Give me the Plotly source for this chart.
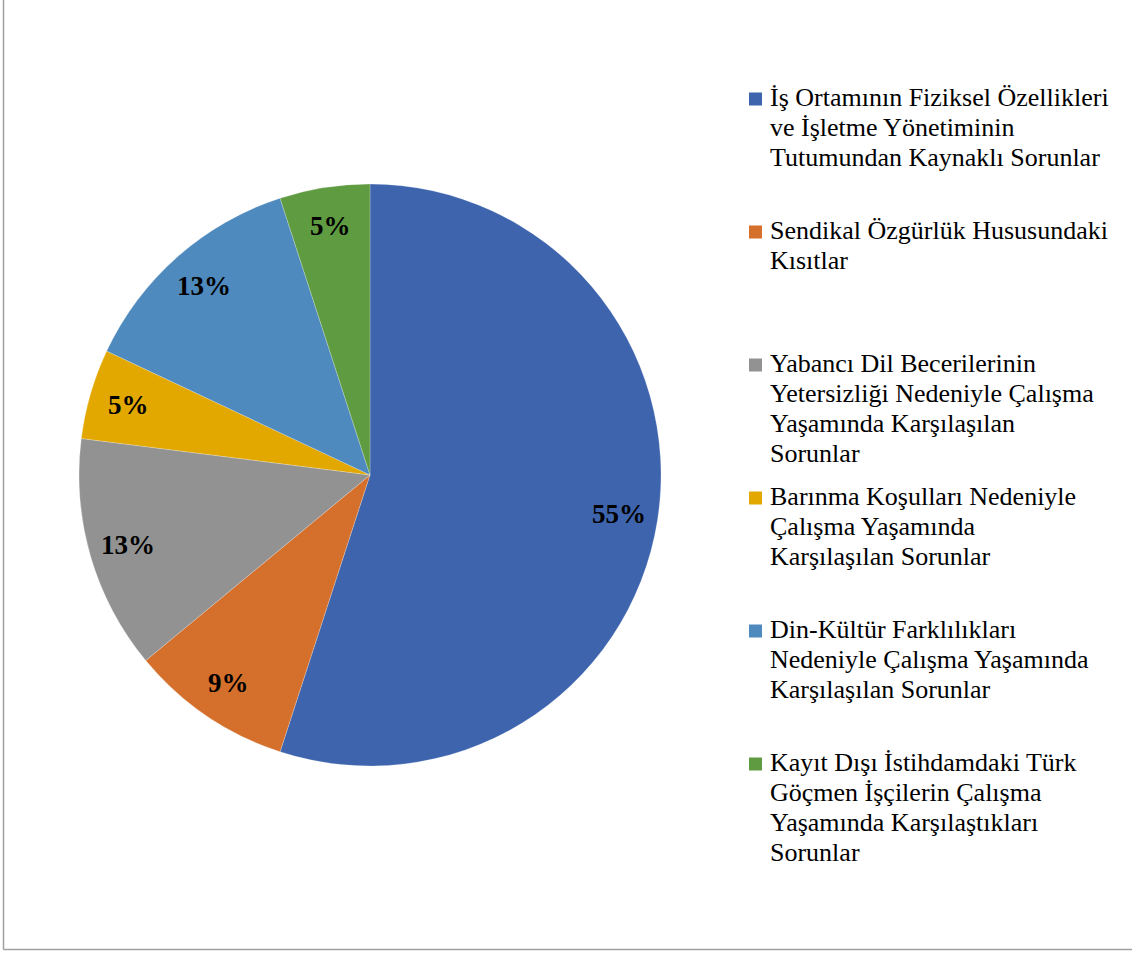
import math
import plotly.graph_objects as go

# Survey categories (full names) and their shares in percent
categories = [
    "İş Ortamının Fiziksel Özellikleri ve İşletme Yönetiminin Tutumundan Kaynaklı Sorunlar",
    "Sendikal Özgürlük Hususundaki Kısıtlar",
    "Yabancı Dil Becerilerinin Yetersizliği Nedeniyle Çalışma Yaşamında Karşılaşılan Sorunlar",
    "Barınma Koşulları Nedeniyle Çalışma Yaşamında Karşılaşılan Sorunlar",
    "Din-Kültür Farklılıkları Nedeniyle Çalışma Yaşamında Karşılaşılan Sorunlar",
    "Kayıt Dışı İstihdamdaki Türk Göçmen İşçilerin Çalışma Yaşamında Karşılaştıkları Sorunlar",
]
shares = [55, 9, 13, 5, 13, 5]

# Legend text, wrapped line by line
legend_lines = [
    ["İş Ortamının Fiziksel Özellikleri", "ve İşletme Yönetiminin", "Tutumundan Kaynaklı Sorunlar"],
    ["Sendikal Özgürlük Hususundaki", "Kısıtlar"],
    ["Yabancı Dil Becerilerinin", "Yetersizliği Nedeniyle Çalışma", "Yaşamında Karşılaşılan", "Sorunlar"],
    ["Barınma Koşulları Nedeniyle", "Çalışma Yaşamında", "Karşılaşılan Sorunlar"],
    ["Din-Kültür Farklılıkları", "Nedeniyle Çalışma Yaşamında", "Karşılaşılan Sorunlar"],
    ["Kayıt Dışı İstihdamdaki Türk", "Göçmen İşçilerin Çalışma", "Yaşamında Karşılaştıkları", "Sorunlar"],
]

colors = ["#3D64AD", "#D4702C", "#929292", "#E2A800", "#4E8ABE", "#5F9B40"]

W, H = 1132, 954
FONT = "Liberation Serif, Times New Roman, serif"

# Pie geometry in pixels
cx, cy, R = 370, 475, 291


def px(x):
    return x / W


def py(y):
    return 1 - y / H


fig = go.Figure()
fig.add_trace(go.Pie(
    labels=categories,
    values=shares,
    marker=dict(colors=colors, line=dict(color="rgba(255,255,255,0.45)", width=0.5)),
    sort=False,
    direction="clockwise",
    rotation=0,
    textinfo="none",
    hoverinfo="label+value",
    showlegend=False,
    domain=dict(x=[px(cx - R), px(cx + R)], y=[py(cy + R), py(cy - R)]),
))

annotations = []
shapes = []

# Percentage labels placed along each slice's mid-angle
total = sum(shares)
start = 0.0
for v in shares:
    mid = (start + v / 2) / total * 2 * math.pi
    start += v
    r = 0.865 * R
    lx = cx + r * math.sin(mid)
    ly = cy - r * math.cos(mid)
    annotations.append(dict(
        x=px(lx), y=py(ly), xref="paper", yref="paper",
        text=f"<b>{v}%</b>", showarrow=False,
        xanchor="center", yanchor="middle",
        font=dict(family=FONT, size=27, color="#000000"),
    ))

# Legend: coloured squares with wrapped text
item_step = 133
line_step = 30
first_baseline = 106
text_x = 768
for i, (lines, col) in enumerate(zip(legend_lines, colors)):
    base = first_baseline + i * item_step
    sq_c = base - 7
    shapes.append(dict(
        type="rect", xref="paper", yref="paper",
        x0=px(749), x1=px(762), y0=py(sq_c + 6.5), y1=py(sq_c - 6.5),
        fillcolor=col, line=dict(width=0),
    ))
    for j, t in enumerate(lines):
        b = base + j * line_step
        annotations.append(dict(
            x=px(text_x), y=py(b - 8.6), xref="paper", yref="paper",
            text=t, showarrow=False, xanchor="left", yanchor="middle",
            font=dict(family=FONT, size=26, color="#000000"),
        ))

# Chart frame (left and bottom edges)
shapes.append(dict(type="line", xref="paper", yref="paper",
                   x0=px(3.5), x1=px(3.5), y0=py(-2), y1=py(949.5),
                   line=dict(color="#a0a0a0", width=1.5)))
shapes.append(dict(type="line", xref="paper", yref="paper",
                   x0=px(3.5), x1=px(1134), y0=py(949.5), y1=py(949.5),
                   line=dict(color="#a0a0a0", width=1.5)))

fig.update_layout(
    width=W, height=H,
    margin=dict(l=0, r=0, t=0, b=0),
    paper_bgcolor="white",
    plot_bgcolor="white",
    annotations=annotations,
    shapes=shapes,
    font=dict(family=FONT),
)

fig.write_html("out.html")
